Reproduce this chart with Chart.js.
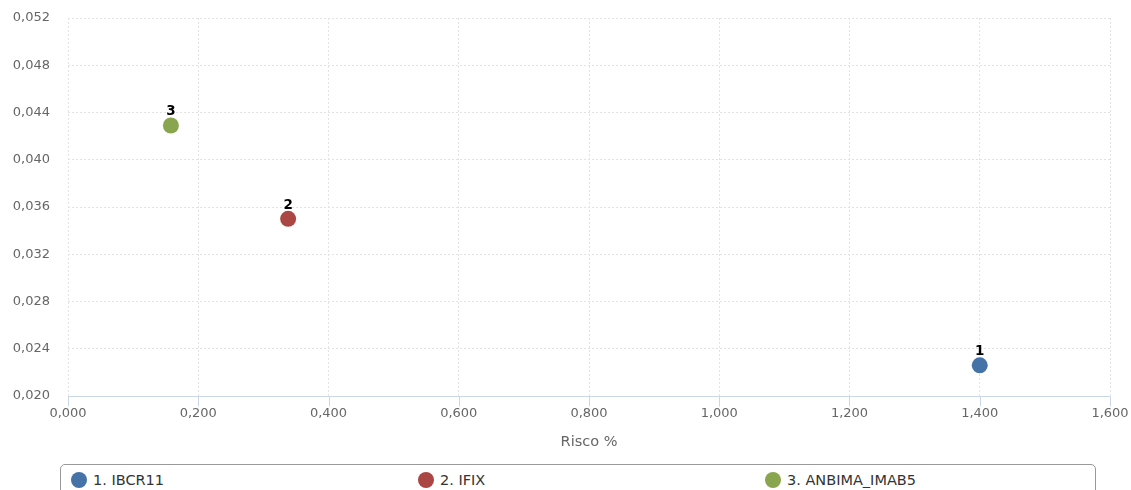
<!DOCTYPE html>
<html>
<head>
<meta charset="utf-8">
<script src="https://cdn.jsdelivr.net/npm/chart.js@4.4.1/dist/chart.umd.min.js"></script>
<style>
  body { margin: 0; background: #fff; font-family: "DejaVu Sans", sans-serif; }
  #wrap { position: relative; width: 1131px; height: 490px; overflow: hidden; }
  #box { position: absolute; left: 0; top: 0; width: 1131px; height: 455px; }
  #legend {
    position: absolute; left: 60px; top: 464px; width: 1036px; height: 40px;
    border: 1px solid #999; border-radius: 5px; box-sizing: border-box;
  }
  .item { position: absolute; top: 7px; font-size: 14.5px; color: #333; white-space: nowrap; }
  .item i { display: inline-block; width: 16px; height: 16px; border-radius: 50%; vertical-align: -3px; margin-right: 6px; }
</style>
</head>
<body>
<div id="wrap">
  <div id="box"><canvas id="myChart"></canvas></div>
  <div id="legend"></div>
</div>
<script>
const names = ['IBCR11', 'IFIX', 'ANBIMA_IMAB5'];
const risco = [1.400, 0.338, 0.158];
const retorno = [0.0226, 0.0350, 0.0429];
const cores = ['#4572a7', '#aa4643', '#89a54e'];

const xTicks = [0, 0.2, 0.4, 0.6, 0.8, 1.0, 1.2, 1.4, 1.6];
const yTicks = [0.020, 0.024, 0.028, 0.032, 0.036, 0.040, 0.044, 0.048, 0.052];

const fmt = v => v.toFixed(3).replace('.', ',');

// numbered labels above each point + bottom axis line with tick marks
const extras = {
  id: 'extras',
  afterDatasetsDraw(chart) {
    const c = chart.ctx;
    c.save();
    c.font = 'bold 13.5px "DejaVu Sans"';
    c.fillStyle = '#000';
    c.textAlign = 'center';
    c.textBaseline = 'bottom';
    chart.data.datasets.forEach((ds, i) => {
      const p = chart.getDatasetMeta(i).data[0];
      c.fillText(String(i + 1), p.x, p.y - 7);
    });
    const xs = chart.scales.x, y0 = chart.chartArea.bottom + 0.5;
    c.strokeStyle = '#ccd6eb';
    c.lineWidth = 1;
    c.beginPath();
    c.moveTo(xs.left, y0);
    c.lineTo(xs.right, y0);
    xTicks.forEach(t => {
      const x = Math.round(xs.getPixelForValue(t)) + 0.5;
      c.moveTo(x, y0);
      c.lineTo(x, y0 + 10);
    });
    c.stroke();
    c.restore();
  }
};

const ctx = document.getElementById('myChart');

new Chart(ctx, {
  type: 'scatter',
  data: {
    datasets: names.map((n, i) => ({
      label: (i + 1) + '. ' + n,
      data: [{ x: risco[i], y: retorno[i] }],
      backgroundColor: cores[i],
      borderColor: cores[i],
      pointRadius: 8,
      pointHoverRadius: 8,
      borderWidth: 0
    }))
  },
  options: {
    responsive: true,
    maintainAspectRatio: false,
    animation: false,
    layout: { padding: { top: 18, right: 21, left: 0, bottom: 0 } },
    plugins: { legend: { display: false }, tooltip: { enabled: false } },
    scales: {
      x: {
        type: 'linear', min: 0, max: 1.6,
        afterBuildTicks: s => { s.ticks = xTicks.map(v => ({ value: v })); },
        afterFit: s => { s.height = 59; s.paddingLeft = 0; s.paddingRight = 0; },
        border: { display: false, dash: [2, 2] },
        grid: { color: '#e3e3e3', drawTicks: false },
        ticks: { padding: 10, color: '#666', font: { family: 'DejaVu Sans', size: 13 }, callback: v => fmt(v) },
        title: { display: true, text: 'Risco %', color: '#666', padding: { top: 4 }, font: { family: 'DejaVu Sans', size: 14.5 } }
      },
      y: {
        type: 'linear', min: 0.020, max: 0.052,
        afterBuildTicks: s => { s.ticks = yTicks.map(v => ({ value: v })); },
        afterFit: s => { s.width = 68; s.paddingTop = 0; s.paddingBottom = 0; },
        border: { display: false, dash: [2, 2] },
        grid: { color: '#e3e3e3', drawTicks: false },
        ticks: { padding: 18, color: '#666', font: { family: 'DejaVu Sans', size: 13 }, callback: v => fmt(v) }
      }
    }
  },
  plugins: [extras]
});

// legend row
const leg = document.getElementById('legend');
names.forEach((n, i) => {
  const d = document.createElement('div');
  d.className = 'item';
  d.style.left = (10 + i * 347) + 'px';
  d.innerHTML = '<i style="background:' + cores[i] + '"></i>' + (i + 1) + '. ' + n;
  leg.appendChild(d);
});
</script>
</body>
</html>
